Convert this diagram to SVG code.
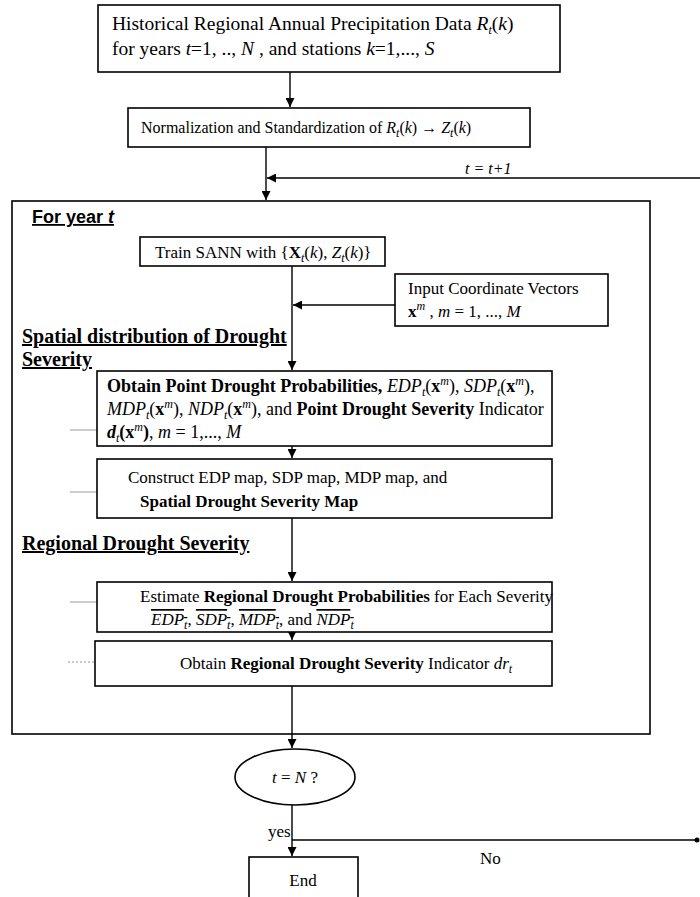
<svg xmlns="http://www.w3.org/2000/svg" width="700" height="897" viewBox="0 0 700 897">
<style>
.box{fill:#fff;stroke:#000;stroke-width:1.6}
.t{font-family:"Liberation Serif","Times New Roman",serif;font-size:17px;fill:#000}
.big{font-size:19.5px}
.mid{font-size:18px}
.sm{font-size:16px}
.a{font-family:"Liberation Sans",Arial,sans-serif;font-size:18px;font-weight:bold;fill:#000;text-decoration:underline}
.h{font-family:"Liberation Serif","Times New Roman",serif;font-size:20px;font-weight:bold;fill:#000;text-decoration:underline}
.b{font-weight:bold}
.i{font-style:italic}
.s{font-size:12px}
.o{text-decoration:overline}
.con{stroke:#000;stroke-width:1.4;fill:none}
.stub{stroke:#999;stroke-width:1;fill:none}
</style>
<defs>
<marker id="ah" viewBox="0 0 10 10" refX="10" refY="5" markerWidth="9" markerHeight="9" markerUnits="userSpaceOnUse" orient="auto">
<path d="M0,0 L10,5 L0,10 z" fill="#000"/>
</marker>
</defs>
<rect width="700" height="897" fill="#fff"/>

<g id="outer">
<rect class="box" x="12" y="201" width="638" height="533" fill="none"/>
<text class="a" x="32" y="223">For year  <tspan font-style="italic">t</tspan></text>
<text class="h" x="22" y="343">Spatial distribution of Drought</text>
<text class="h" x="22" y="366">Severity</text>
<text class="h" x="22" y="550">Regional Drought Severity</text>
</g>

<g id="connectors">
<line class="con" x1="290" y1="72" x2="290" y2="107" marker-end="url(#ah)"/>
<line class="con" x1="266" y1="147" x2="266" y2="200" marker-end="url(#ah)"/>
<line class="con" x1="700" y1="178" x2="267" y2="178" marker-end="url(#ah)"/>
<text class="t i sm" x="465" y="174">t = t+1</text>
<line class="con" x1="292" y1="266" x2="292" y2="370" marker-end="url(#ah)"/>
<line class="con" x1="395" y1="305" x2="293" y2="305" marker-end="url(#ah)"/>
<line class="con" x1="292" y1="446" x2="292" y2="458" marker-end="url(#ah)"/>
<line class="con" x1="292" y1="518" x2="292" y2="581" marker-end="url(#ah)"/>
<line class="con" x1="292" y1="632" x2="292" y2="640" marker-end="url(#ah)"/>
<line class="con" x1="292" y1="686" x2="292" y2="748" marker-end="url(#ah)"/>
<line class="con" x1="292" y1="805" x2="292" y2="856" marker-end="url(#ah)"/>
<line class="con" x1="292" y1="840" x2="697" y2="840"/>
<circle cx="697" cy="840" r="2.5" fill="#000"/>
<text class="t" x="268" y="837">yes</text>
<text class="t" x="480" y="864">No</text>
<line class="stub" x1="70" y1="430" x2="97" y2="430"/>
<line class="stub" x1="70" y1="492" x2="97" y2="492"/>
<line class="stub" x1="70" y1="602" x2="97" y2="602"/>
<line class="stub" x1="68" y1="662" x2="95" y2="662" stroke-dasharray="2,2"/>
</g>

<g id="n1">
<rect class="box" x="98" y="5" width="462" height="67"/>
<text class="t big" x="112" y="30">Historical Regional Annual Precipitation Data <tspan class="i">R</tspan><tspan class="i s" dy="4">t</tspan><tspan dy="-4">(</tspan><tspan class="i">k</tspan>)</text>
<text class="t big" x="112" y="55">for years <tspan class="i">t</tspan>=1, .., <tspan class="i">N</tspan> , and stations <tspan class="i">k</tspan>=1,..., <tspan class="i">S</tspan></text>
</g>

<g id="n2">
<rect class="box" x="128" y="108" width="402" height="39"/>
<text class="t sm" x="141" y="133">Normalization and Standardization of <tspan class="i">R</tspan><tspan class="i s" dy="4">t</tspan><tspan dy="-4">(</tspan><tspan class="i">k</tspan>) → <tspan class="i">Z</tspan><tspan class="i s" dy="4">t</tspan><tspan dy="-4">(</tspan><tspan class="i">k</tspan>)</text>
</g>

<g id="n3">
<rect class="box" x="140" y="237" width="245" height="29"/>
<text class="t" x="155" y="258">Train SANN with {<tspan class="b">X</tspan><tspan class="i s" dy="4">t</tspan><tspan dy="-4">(</tspan><tspan class="i">k</tspan>), <tspan class="i">Z</tspan><tspan class="i s" dy="4">t</tspan><tspan dy="-4">(</tspan><tspan class="i">k</tspan>)}</text>
</g>

<g id="n4">
<rect class="box" x="395" y="274" width="213" height="52"/>
<text class="t" x="408" y="294">Input Coordinate Vectors</text>
<text class="t" x="408" y="317"><tspan class="b">x</tspan><tspan class="i s" dy="-7">m</tspan><tspan dy="7"> , </tspan><tspan class="i">m</tspan> = 1, ..., <tspan class="i">M</tspan></text>
</g>

<g id="n5">
<rect class="box" x="97" y="371" width="455" height="75"/>
<text class="t mid" x="107" y="392"><tspan class="b">Obtain Point Drought Probabilities,</tspan> <tspan class="i">EDP</tspan><tspan class="i s" dy="4">t</tspan><tspan dy="-4">(</tspan><tspan class="b">x</tspan><tspan class="i s" dy="-7">m</tspan><tspan dy="7">), </tspan><tspan class="i">SDP</tspan><tspan class="i s" dy="4">t</tspan><tspan dy="-4">(</tspan><tspan class="b">x</tspan><tspan class="i s" dy="-7">m</tspan><tspan dy="7">),</tspan></text>
<text class="t mid" x="107" y="415"><tspan class="i">MDP</tspan><tspan class="i s" dy="4">t</tspan><tspan dy="-4">(</tspan><tspan class="b">x</tspan><tspan class="i s" dy="-7">m</tspan><tspan dy="7">), </tspan><tspan class="i">NDP</tspan><tspan class="i s" dy="4">t</tspan><tspan dy="-4">(</tspan><tspan class="b">x</tspan><tspan class="i s" dy="-7">m</tspan><tspan dy="7">),  and </tspan><tspan class="b">Point Drought Severity</tspan> Indicator</text>
<text class="t mid" x="107" y="438"><tspan class="i b">d</tspan><tspan class="i s" dy="4">t</tspan><tspan class="b" dy="-4">(x</tspan><tspan class="i s" dy="-7">m</tspan><tspan class="b" dy="7">)</tspan>, <tspan class="i">m</tspan> = 1,..., <tspan class="i">M</tspan></text>
</g>

<g id="n6">
<rect class="box" x="97" y="459" width="455" height="59"/>
<text class="t" x="128" y="483">Construct EDP map, SDP map, MDP map, and</text>
<text class="t b" x="140" y="507">Spatial Drought Severity Map</text>
</g>

<g id="n7">
<rect class="box" x="97" y="582" width="455" height="50"/>
<text class="t" x="140" y="602">Estimate <tspan class="b">Regional Drought Probabilities</tspan> for Each Severity</text>
<text class="t i" x="151" y="625"><tspan class="o">EDP<tspan class="s" dy="4">t</tspan></tspan><tspan dy="-4" font-style="normal">, </tspan><tspan class="o">SDP<tspan class="s" dy="4">t</tspan></tspan><tspan dy="-4" font-style="normal">,  </tspan><tspan class="o">MDP<tspan class="s" dy="4">t</tspan></tspan><tspan dy="-4" font-style="normal">, and  </tspan><tspan class="o">NDP<tspan class="s" dy="4">t</tspan></tspan></text>
</g>

<g id="n8">
<rect class="box" x="95" y="641" width="457" height="45"/>
<text class="t" x="180" y="669">Obtain <tspan class="b">Regional Drought Severity</tspan> Indicator <tspan class="i">dr</tspan><tspan class="i s" dy="4">t</tspan></text>
</g>

<g id="n9">
<ellipse class="box" cx="295" cy="777" rx="60" ry="28"/>
<text class="t" x="295" y="783" text-anchor="middle"><tspan class="i">t</tspan> = <tspan class="i">N</tspan> ?</text>
</g>

<g id="n10">
<rect class="box" x="249" y="857" width="109" height="55"/>
<text class="t" x="303" y="886" text-anchor="middle">End</text>
</g>
</svg>
